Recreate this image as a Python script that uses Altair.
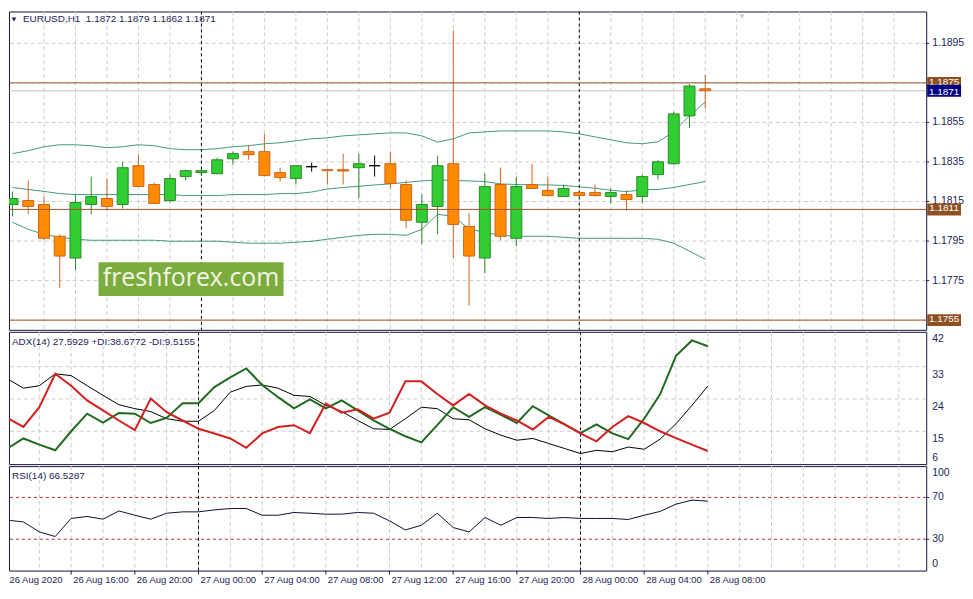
import altair as alt
import pandas as pd

# ---------------- data (hourly bars, 26 Aug 2020 12:00 -> 28 Aug 2020 08:00) ----------------
bar_index = list(range(45))
opens = [1.18135, 1.18155, 1.18135, 1.17974, 1.17864, 1.18135, 1.18165, 1.18135, 1.18331, 1.18236,
         1.18155, 1.18276, 1.18296, 1.18291, 1.18366, 1.18402, 1.18402, 1.18296, 1.18266, 1.18326,
         1.18311, 1.18311, 1.18321, 1.18331, 1.18341, 1.18236, 1.18045, 1.18125, 1.18341, 1.18024,
         1.17864, 1.18236, 1.17964, 1.18236, 1.18206, 1.18175, 1.18195, 1.18195, 1.18175, 1.18185,
         1.18175, 1.18286, 1.18341, 1.18583, 1.1872]
highs = [1.18200, 1.18256, 1.18175, 1.17984, 1.18185, 1.18276, 1.18266, 1.18351, 1.18387, 1.18246,
         1.18286, 1.18311, 1.18311, 1.18372, 1.18402, 1.18437, 1.18492, 1.18321, 1.18331, 1.18346,
         1.18316, 1.18392, 1.18392, 1.18382, 1.18402, 1.18256, 1.18185, 1.18382, 1.19015, 1.18090,
         1.18291, 1.18321, 1.18276, 1.18341, 1.18276, 1.18236, 1.18206, 1.18236, 1.18216, 1.18206,
         1.18286, 1.18361, 1.18603, 1.18744, 1.1879]
lows = [1.18075, 1.18085, 1.17954, 1.17713, 1.17803, 1.18085, 1.18105, 1.18115, 1.18226, 1.18140,
        1.18145, 1.18256, 1.18291, 1.18286, 1.18336, 1.18361, 1.18276, 1.18251, 1.18236, 1.18301,
        1.18236, 1.18236, 1.18165, 1.18276, 1.18216, 1.18014, 1.17934, 1.17984, 1.17864, 1.17622,
        1.17788, 1.17954, 1.17924, 1.18216, 1.18175, 1.18175, 1.18175, 1.18175, 1.18140, 1.18105,
        1.18140, 1.18261, 1.18336, 1.18522, 1.1862]
closes = [1.18165, 1.18125, 1.17964, 1.17874, 1.18145, 1.18175, 1.18125, 1.18321, 1.18226, 1.18140,
          1.18266, 1.18306, 1.18306, 1.18361, 1.18392, 1.18387, 1.18281, 1.18271, 1.18331, 1.18326,
          1.18306, 1.18304, 1.18341, 1.18331, 1.18241, 1.18055, 1.18135, 1.18331, 1.18034, 1.17874,
          1.18226, 1.17974, 1.18226, 1.18216, 1.18180, 1.18216, 1.18180, 1.18180, 1.18195, 1.18160,
          1.18276, 1.18351, 1.18593, 1.18734, 1.1871]

bb_upper = [1.18392, 1.18407, 1.18427, 1.18437, 1.18437, 1.18432, 1.18422, 1.18427, 1.18437, 1.18432,
            1.18417, 1.18412, 1.18412, 1.18417, 1.18427, 1.18432, 1.18442, 1.18447, 1.18457, 1.18467,
            1.18472, 1.18482, 1.18487, 1.18492, 1.18497, 1.18497, 1.18482, 1.18450, 1.18467, 1.18497,
            1.18502, 1.18507, 1.18507, 1.18507, 1.18507, 1.18502, 1.18492, 1.18477, 1.18462, 1.18447,
            1.18442, 1.18452, 1.18502, 1.18583, 1.18653]
bb_middle = [1.18221, 1.18211, 1.18201, 1.18190, 1.18185, 1.18185, 1.18185, 1.18185, 1.18185, 1.18185,
             1.18185, 1.18180, 1.18180, 1.18180, 1.18185, 1.18185, 1.18185, 1.18190, 1.18190, 1.18198,
             1.18213, 1.18221, 1.18227, 1.18234, 1.18239, 1.18247, 1.18254, 1.18259, 1.18257, 1.18254,
             1.18251, 1.18239, 1.18236, 1.18234, 1.18234, 1.18231, 1.18224, 1.18217, 1.18207, 1.18200,
             1.18209, 1.18211, 1.18221, 1.18236, 1.18251]
bb_lower = [1.18045, 1.18009, 1.17984, 1.17969, 1.17959, 1.17954, 1.17954, 1.17954, 1.17954, 1.17954,
            1.17949, 1.17949, 1.17949, 1.17949, 1.17944, 1.17939, 1.17939, 1.17939, 1.17944, 1.17949,
            1.17959, 1.17969, 1.17979, 1.17984, 1.17984, 1.17979, 1.18009, 1.18085, 1.18075, 1.18011,
            1.17994, 1.17979, 1.17974, 1.17974, 1.17974, 1.17969, 1.17964, 1.17964, 1.17964, 1.17964,
            1.17964, 1.17959, 1.17939, 1.17899, 1.17858]

plus_di = [10.2, 13.0, 11.3, 9.7, 15.0, 19.9, 17.4, 20.1, 19.9, 17.3,
           18.7, 22.8, 22.8, 27.3, 30.0, 32.5, 27.9, 24.5, 21.4, 23.9,
           21.4, 23.6, 20.8, 18.0, 15.7, 13.6, 11.9, 16.7, 21.7, 19.0,
           21.7, 19.6, 17.3, 22.0, 19.4, 16.9, 14.5, 16.9, 14.4, 12.8,
           18.5, 25.3, 36.0, 40.3, 38.6772]
minus_di = [18.7, 16.2, 21.7, 31.0, 27.7, 23.6, 20.8, 18.0, 15.3, 24.1,
            20.3, 18.0, 15.7, 14.4, 13.0, 10.4, 14.4, 16.2, 16.7, 14.5,
            22.7, 20.2, 21.1, 18.5, 20.2, 28.9, 28.9, 25.4, 22.2, 25.4,
            22.2, 19.9, 18.0, 15.5, 19.0, 16.9, 14.4, 12.2, 16.2, 19.2,
            17.3, 15.0, 13.1, 11.3, 9.5155]
adx_vals = [29.6, 27.0, 27.7, 31.0, 30.5, 27.7, 25.0, 22.4, 21.3, 20.5,
            18.5, 17.8, 17.8, 20.8, 25.9, 27.5, 27.9, 27.0, 25.0, 24.7,
            22.2, 20.5, 18.0, 15.7, 15.5, 18.5, 21.7, 21.3, 18.5, 18.2,
            15.7, 13.9, 12.5, 13.0, 11.6, 10.2, 8.8, 9.7, 9.3, 10.6,
            10.0, 12.8, 17.1, 22.2, 27.5929]
rsi_vals = [48.2, 46.6, 37.0, 32.6, 49.9, 51.8, 49.2, 57.1, 53.0, 49.2,
            54.9, 56.2, 56.2, 58.1, 59.4, 59.4, 53.0, 53.0, 55.6, 54.9,
            54.0, 54.0, 55.6, 54.9, 47.6, 38.9, 43.4, 54.9, 41.2, 37.0,
            50.8, 43.4, 50.8, 50.8, 49.9, 50.8, 49.9, 49.9, 49.9, 48.9,
            53.0, 56.6, 63.6, 67.4, 66.5287]

time_label_bars = [0, 4, 8, 12, 16, 20, 24, 28, 32, 36, 40, 44]
time_labels = ["26 Aug 2020", "26 Aug 16:00", "26 Aug 20:00", "27 Aug 00:00", "27 Aug 04:00",
               "27 Aug 08:00", "27 Aug 12:00", "27 Aug 16:00", "27 Aug 20:00", "28 Aug 00:00",
               "28 Aug 04:00", "28 Aug 08:00"]
day_separator_bars = [12, 36]
grid_bars = list(range(2, 58, 2))
price_grid = [1.1755, 1.1775, 1.1795, 1.1815, 1.1835, 1.1855, 1.1875, 1.1895]
price_labels = [1.1775, 1.1795, 1.1815, 1.1835, 1.1855, 1.1895]
hline_prices = [1.1875, 1.1811, 1.1755]
bid_price = 1.1871
adx_grid = [15, 24, 33]
adx_ticks = [42, 33, 24, 15, 6]
rsi_levels = [30, 70]
rsi_ticks = [0, 30, 70, 100]

# ---------------- style ----------------
W = 922
H_MAIN, H_ADX, H_RSI = 320, 133, 105
XDOM = [0.09375, 0.09375 + W / 16]
FONT = "Liberation Sans"
FS = 10.5
FS_LEG = 10
NAVY = "#1e1e55"
FRAME = "#14143c"
GRID = "#cdcdcd"
BROWN = "#9a5626"
BOXBROWN = "#8e5021"
BB = "#3f9b78"
UP_FILL, UP_LINE = "#32cd32", "#2a8a2a"
DN_FILL, DN_LINE = "#ff8c00", "#cf6420"

xenc = alt.X("i:Q", scale=alt.Scale(domain=XDOM, nice=False, zero=False), axis=None)
YMAIN = alt.Scale(domain=[1.17501, 1.19111], nice=False, zero=False)
YADX = alt.Scale(domain=[5.85, 42.7], nice=False, zero=False)
YRSI = alt.Scale(domain=[0, 100], nice=False, zero=False)

candles = pd.DataFrame(dict(i=bar_index, o=opens, h=highs, l=lows, c=closes))
candles["dir"] = ["up" if c > o else ("down" if c < o else "flat") for o, c in zip(opens, closes)]
bands = pd.DataFrame(dict(i=bar_index, upper=bb_upper, middle=bb_middle, lower=bb_lower)).melt(
    "i", var_name="band", value_name="v")

grid_df = pd.DataFrame({"i": grid_bars})
sep_df = pd.DataFrame({"i": day_separator_bars})
one = pd.DataFrame({"k": [0]})


def vgrid():
    return alt.Chart(grid_df).mark_rule(color=GRID, strokeDash=[4, 3], strokeWidth=1).encode(x=xenc)


def seps():
    return alt.Chart(sep_df).mark_rule(color="#000000", strokeDash=[3, 3], strokeWidth=1).encode(x=xenc)


def right_labels(values, scale, fmt, dy=0, flt=None):
    base = alt.Chart(pd.DataFrame({"v": values}))
    if flt is not None:
        base = base.transform_filter(flt)
    ticks = base.mark_rule(color=NAVY, strokeWidth=1).encode(
        x=alt.value(W), x2=alt.value(W + 3), y=alt.Y("v:Q", scale=scale, axis=None))
    text = base.mark_text(font=FONT, fontSize=FS, color=NAVY, align="left", baseline="middle", dy=dy).encode(
        x=alt.value(W + 6), y=alt.Y("v:Q", scale=scale, axis=None), text=alt.Text("v:Q", format=fmt))
    return ticks, text


def legend_text(s):
    return alt.Chart(pd.DataFrame({"t": [s]})).mark_text(
        font=FONT, fontSize=FS_LEG, color=NAVY, align="left", baseline="middle").encode(
        x=alt.value(3), y=alt.value(10), text="t:N")


# ---------------- main price panel ----------------
hgrid = alt.Chart(pd.DataFrame({"p": price_grid})).mark_rule(
    color=GRID, strokeDash=[4, 3], strokeWidth=1).encode(y=alt.Y("p:Q", scale=YMAIN, axis=None))

bb_lines = alt.Chart(bands).mark_line(color=BB, strokeWidth=1, clip=True).encode(
    x=xenc, y=alt.Y("v:Q", scale=YMAIN, axis=None), detail="band:N")

bid_line = alt.Chart(pd.DataFrame({"p": [bid_price]})).mark_rule(color="#c4c4c4", strokeWidth=1).encode(
    y=alt.Y("p:Q", scale=YMAIN, axis=None))

dir_dom = ["up", "down", "flat"]
wicks = alt.Chart(candles).mark_rule(strokeWidth=1, clip=True).encode(
    x=xenc, y=alt.Y("l:Q", scale=YMAIN, axis=None), y2="h:Q",
    color=alt.Color("dir:N", scale=alt.Scale(domain=dir_dom, range=[UP_LINE, DN_LINE, "#000000"]), legend=None))
bodies = alt.Chart(candles).mark_bar(size=11, strokeWidth=1, clip=True).encode(
    x=xenc, y=alt.Y("o:Q", scale=YMAIN, axis=None), y2="c:Q",
    fill=alt.Fill("dir:N", scale=alt.Scale(domain=dir_dom, range=[UP_FILL, DN_FILL, "#000000"]), legend=None),
    stroke=alt.Stroke("dir:N", scale=alt.Scale(domain=dir_dom, range=[UP_LINE, DN_LINE, "#000000"]), legend=None))

hlines = alt.Chart(pd.DataFrame({"p": hline_prices})).mark_rule(color=BROWN, strokeWidth=1).encode(
    y=alt.Y("p:Q", scale=YMAIN, axis=None))

wm_rect = alt.Chart(one).mark_rect(color="#7dac3e").encode(
    x=alt.value(90), x2=alt.value(276), y=alt.value(252), y2=alt.value(286))
wm_text = alt.Chart(pd.DataFrame({"t": ["freshforex.com"]})).mark_text(
    font="Open Sans", fontSize=25, color="#f1f5e6", align="center", baseline="middle").encode(
    x=alt.value(183), y=alt.value(268), text="t:N")

title_str = "EURUSD,H1\u00a0 {:.4f} {:.4f} {:.4f} {:.4f}".format(opens[-1], highs[-1], lows[-1], closes[-1])
title = alt.Chart(pd.DataFrame({"t": [title_str]})).mark_text(
    font=FONT, fontSize=FS_LEG, color=NAVY, align="left", baseline="middle").encode(
    x=alt.value(14), y=alt.value(8), text="t:N")
title_tri = alt.Chart(one).mark_point(shape="triangle-down", filled=True, color=NAVY, size=22,
                                      opacity=1).encode(x=alt.value(5), y=alt.value(8))

shift_mark = alt.Chart(one).mark_point(shape="triangle-down", filled=True, color="#cccccc", size=28,
                                       opacity=1).encode(x=alt.value(737), y=alt.value(5))

main_ticks, main_text = right_labels(price_labels, YMAIN, ".4f")


def price_box(values, color, dy):
    base = alt.Chart(pd.DataFrame({"p": values}))
    box = base.mark_tick(orient="horizontal", thickness=12, size=34, opacity=1, color=color).encode(
        x=alt.value(940), y=alt.Y("p:Q", scale=YMAIN, axis=None))
    txt = base.mark_text(font=FONT, fontSize=10, color="#ffffff", align="center", baseline="middle",
                         dy=dy).encode(
        x=alt.value(940), y=alt.Y("p:Q", scale=YMAIN, axis=None), text=alt.Text("p:Q", format=".4f"))
    return box, txt


brown_box, brown_txt = price_box(hline_prices, BOXBROWN, -1)
blue_box, blue_txt = price_box([bid_price], "#000080", 1)

main = alt.layer(hgrid, vgrid(), bb_lines, bid_line, seps(), wicks, bodies, hlines,
                 wm_rect, wm_text, title_tri, title, shift_mark, main_ticks, main_text,
                 brown_box, brown_txt, blue_box, blue_txt).properties(width=W, height=H_MAIN)

# ---------------- ADX panel ----------------
adx_df = pd.DataFrame(dict(i=bar_index, adx=adx_vals, plus=plus_di, minus=minus_di))
adx_hgrid = alt.Chart(pd.DataFrame({"v": adx_grid})).mark_rule(
    color=GRID, strokeDash=[4, 3], strokeWidth=1).encode(y=alt.Y("v:Q", scale=YADX, axis=None))
adx_line = alt.Chart(adx_df).mark_line(color="#000000", strokeWidth=1, clip=True).encode(
    x=xenc, y=alt.Y("adx:Q", scale=YADX, axis=None))
plus_line = alt.Chart(adx_df).mark_line(color="#1f6a1f", strokeWidth=2, clip=True).encode(
    x=xenc, y=alt.Y("plus:Q", scale=YADX, axis=None))
minus_line = alt.Chart(adx_df).mark_line(color="#d21f1f", strokeWidth=2, clip=True).encode(
    x=xenc, y=alt.Y("minus:Q", scale=YADX, axis=None))

_, adx_lab_mid = right_labels(adx_ticks, YADX, "d", dy=8, flt="datum.v > 6 && datum.v < 42")
_, adx_lab_top = right_labels(adx_ticks, YADX, "d", dy=5, flt="datum.v >= 42")
_, adx_lab_bot = right_labels(adx_ticks, YADX, "d", dy=-6, flt="datum.v <= 6")

adx_title = "ADX(14) {:.4f} +DI:{:.4f} -DI:{:.4f}".format(adx_vals[-1], plus_di[-1], minus_di[-1])

adxp = alt.layer(vgrid(), adx_hgrid, seps(), adx_line, plus_line, minus_line,
                 adx_lab_mid, adx_lab_top, adx_lab_bot, legend_text(adx_title)).properties(width=W, height=H_ADX)

# ---------------- RSI panel ----------------
rsi_df = pd.DataFrame(dict(i=bar_index, rsi=rsi_vals))
rsi_lv = alt.Chart(pd.DataFrame({"v": rsi_levels})).mark_rule(
    color="#b52a2a", strokeDash=[3, 3], strokeWidth=1).encode(y=alt.Y("v:Q", scale=YRSI, axis=None))
rsi_line = alt.Chart(rsi_df).mark_line(color="#0f0f2f", strokeWidth=1, clip=True).encode(
    x=xenc, y=alt.Y("rsi:Q", scale=YRSI, axis=None))

rsi_ticks_m, rsi_lab_mid = right_labels(rsi_ticks, YRSI, "d", flt="datum.v > 0 && datum.v < 100")
_, rsi_lab_top = right_labels(rsi_ticks, YRSI, "d", dy=7, flt="datum.v >= 100")
_, rsi_lab_bot = right_labels(rsi_ticks, YRSI, "d", dy=-7, flt="datum.v <= 0")

tl_df = pd.DataFrame({"i": time_label_bars, "t": time_labels})
time_ticks = alt.Chart(tl_df).transform_filter("datum.i > 0").mark_rule(color=NAVY, strokeWidth=1).encode(
    x=xenc, y=alt.value(H_RSI), y2=alt.value(H_RSI + 4))
time_text = alt.Chart(tl_df).mark_text(font=FONT, fontSize=9.5, color=NAVY, align="left",
                                        baseline="middle", dx=2).encode(
    x=xenc, y=alt.value(H_RSI + 9), text="t:N")

rsip = alt.layer(vgrid(), seps(), rsi_lv, rsi_line, legend_text("RSI(14) {:.4f}".format(rsi_vals[-1])),
                 rsi_ticks_m, rsi_lab_mid, rsi_lab_top, rsi_lab_bot, time_ticks, time_text
                 ).properties(width=W, height=H_RSI)

chart = alt.vconcat(main, adxp, rsip, spacing=2).resolve_scale(x="independent").properties(
    padding={"left": 0, "top": 1, "right": 0, "bottom": 0}, bounds="flush", background="#ffffff"
).configure_view(stroke=FRAME, strokeWidth=1)

chart.save("out.html", embed_options={"renderer": "svg", "actions": False})
